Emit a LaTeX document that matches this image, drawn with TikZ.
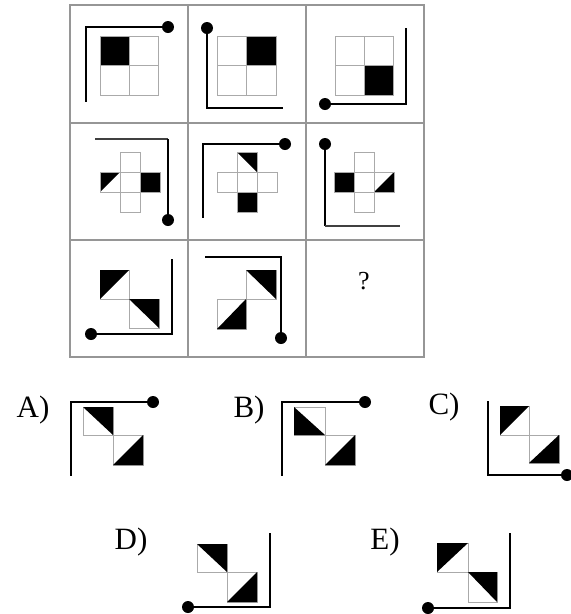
\documentclass[tikz,border=0pt]{standalone}
\usepackage{fontspec}
\setmainfont{Liberation Serif}
\usepackage{tikz}
\definecolor{gridgray}{RGB}{150,150,150}
\definecolor{cellgray}{RGB}{170,170,170}
\tikzset{
  gridline/.style={draw=gridgray, line width=1.4pt},
  cellline/.style={draw=cellgray, line width=0.9pt},
  thickarm/.style={draw=black, line width=2.8pt},
  thinarm/.style={draw=black!75, line width=1.2pt},
  blk/.style={fill=black},
  pinhead/.style={fill=black},
  optlabel/.style={font=\fontsize{31}{36}\selectfont, inner sep=0pt}
}
\begin{document}
\begin{tikzpicture}[x=1pt, y=-1pt]
  \useasboundingbox (0,0) rectangle (571,614);

  % Matrix frame
  \draw[gridline] (70,5) rectangle (424,357);
  \draw[gridline] (188,5) -- (188,357);
  \draw[gridline] (306,5) -- (306,357);
  \draw[gridline] (70,123) -- (424,123);
  \draw[gridline] (70,240) -- (424,240);

  % Row 1, cell 1
  \fill[blk] (100,36) rectangle (129,65.5);
  \draw[cellline] (100,36) rectangle (158,95);
  \draw[cellline] (129,36) -- (129,95);
  \draw[cellline] (100,65.5) -- (158,65.5);
  \draw[thickarm] (168,27) -- (86,27) -- (86,102);
  \fill[pinhead] (168,27) circle (6);

  % Row 1, cell 2
  \fill[blk] (246.5,36) rectangle (276,65.5);
  \draw[cellline] (217,36) rectangle (276,95);
  \draw[cellline] (246.5,36) -- (246.5,95);
  \draw[cellline] (217,65.5) -- (276,65.5);
  \draw[thickarm] (207,28) -- (207,108) -- (283,108);
  \fill[pinhead] (207,28) circle (6);

  % Row 1, cell 3
  \fill[blk] (364,65.5) rectangle (393,95);
  \draw[cellline] (335,36) rectangle (393,95);
  \draw[cellline] (364,36) -- (364,95);
  \draw[cellline] (335,65.5) -- (393,65.5);
  \draw[thickarm] (406,28) -- (406,104) -- (325,104);
  \fill[pinhead] (325,104) circle (6);

  % Row 2, cell 1
  \fill[blk] (100,172) -- (120,172) -- (100,192) -- cycle;
  \fill[blk] (140,172) rectangle (160,192);
  \draw[cellline] (120,152) rectangle (140,212);
  \draw[cellline] (100,172) rectangle (160,192);
  \draw[cellline] (120,172) rectangle (140,192);
  \draw[thinarm] (95,139) -- (168,139);
  \draw[thickarm] (168,139) -- (168,220);
  \fill[pinhead] (168,220) circle (6);

  % Row 2, cell 2
  \fill[blk] (237,152) -- (257,152) -- (257,172) -- cycle;
  \fill[blk] (237,192) rectangle (257,212);
  \draw[cellline] (237,152) rectangle (257,212);
  \draw[cellline] (217,172) rectangle (277,192);
  \draw[cellline] (237,172) rectangle (257,192);
  \draw[thickarm] (285,144) -- (203,144) -- (203,218);
  \fill[pinhead] (285,144) circle (6);

  % Row 2, cell 3
  \fill[blk] (334,172) rectangle (354,192);
  \fill[blk] (394,172) -- (394,192) -- (374,192) -- cycle;
  \draw[cellline] (354,152) rectangle (374,212);
  \draw[cellline] (334,172) rectangle (394,192);
  \draw[cellline] (354,172) rectangle (374,192);
  \draw[thickarm] (325,144) -- (325,226);
  \draw[thinarm] (325,226) -- (400,226);
  \fill[pinhead] (325,144) circle (6);

  % Row 3, cell 1
  \draw[cellline] (100,270) rectangle (129,299);
  \draw[cellline] (129,299) rectangle (159,328);
  \fill[blk] (100,270) -- (129,270) -- (100,299) -- cycle;
  \fill[blk] (129,299) -- (159,299) -- (159,328) -- cycle;
  \draw[thickarm] (172,259) -- (172,334) -- (91,334);
  \fill[pinhead] (91,334) circle (6);

  % Row 3, cell 2
  \draw[cellline] (246,270) rectangle (276,299);
  \draw[cellline] (217,299) rectangle (246,329);
  \fill[blk] (246,270) -- (276,270) -- (276,299) -- cycle;
  \fill[blk] (246,299) -- (246,329) -- (217,329) -- cycle;
  \draw[thickarm] (205,257) -- (281,257) -- (281,338);
  \fill[pinhead] (281,338) circle (6);

  % Row 3, cell 3
  \node[font=\fontsize{26}{30}\selectfont, inner sep=0pt] (query) at (364,281) {?};

  % Option A
  \node[optlabel] (labA) at (33,410) {A)};
  \draw[cellline] (83,407) rectangle (113,435);
  \draw[cellline] (113,435) rectangle (143,465);
  \fill[blk] (83,407) -- (113,407) -- (113,435) -- cycle;
  \fill[blk] (143,435) -- (143,465) -- (113,465) -- cycle;
  \draw[thickarm] (153,402) -- (71,402) -- (71,476);
  \fill[pinhead] (153,402) circle (6);

  % Option B
  \node[optlabel] (labB) at (249,410) {B)};
  \draw[cellline] (294,407) rectangle (325,435);
  \draw[cellline] (325,435) rectangle (355,465);
  \fill[blk] (294,407) -- (294,435) -- (325,435) -- cycle;
  \fill[blk] (355,435) -- (355,465) -- (325,465) -- cycle;
  \draw[thickarm] (365,402) -- (282,402) -- (282,476);
  \fill[pinhead] (365,402) circle (6);

  % Option C
  \node[optlabel] (labC) at (444,407) {C)};
  \draw[cellline] (500,406) rectangle (529,435);
  \draw[cellline] (529,435) rectangle (559,463);
  \fill[blk] (500,406) -- (529,406) -- (500,435) -- cycle;
  \fill[blk] (559,435) -- (559,463) -- (529,463) -- cycle;
  \draw[thickarm] (488,401) -- (488,475) -- (567,475);
  \fill[pinhead] (567,475) circle (6);

  % Option D
  \node[optlabel] (labD) at (131,542) {D)};
  \draw[cellline] (197,544) rectangle (227,572);
  \draw[cellline] (227,572) rectangle (257,602);
  \fill[blk] (197,544) -- (227,544) -- (227,572) -- cycle;
  \fill[blk] (257,572) -- (257,602) -- (227,602) -- cycle;
  \draw[thickarm] (270,533) -- (270,607) -- (188,607);
  \fill[pinhead] (188,607) circle (6);

  % Option E
  \node[optlabel] (labE) at (385,542) {E)};
  \draw[cellline] (437,543) rectangle (468,572);
  \draw[cellline] (468,572) rectangle (497,602);
  \fill[blk] (437,543) -- (468,543) -- (437,572) -- cycle;
  \fill[blk] (468,572) -- (497,572) -- (497,602) -- cycle;
  \draw[thickarm] (510,533) -- (510,608) -- (428,608);
  \fill[pinhead] (428,608) circle (6);
\end{tikzpicture}
\end{document}
